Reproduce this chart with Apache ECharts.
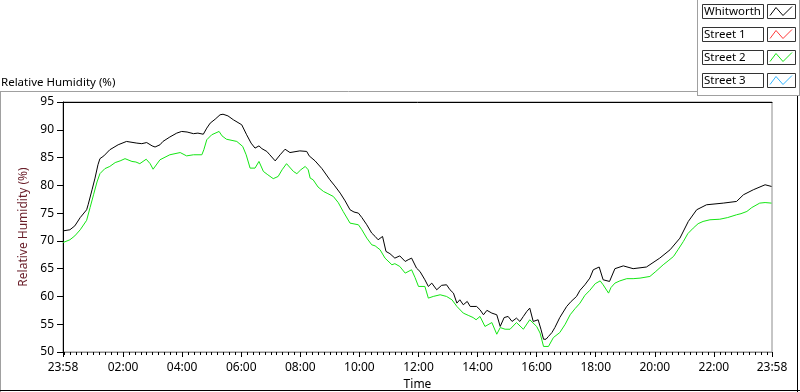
<!DOCTYPE html>
<html>
<head>
<meta charset="utf-8">
<script src="https://cdn.jsdelivr.net/npm/echarts@6/dist/echarts.min.js"></script>
<style>
html,body{margin:0;padding:0;background:#fff;}
#chart{width:800px;height:392px;}
</style>
</head>
<body>
<div id="chart"></div>
<script>
// ---- data (x = minutes elapsed since 23:58) ----
const seriesNames = ['Whitworth', 'Street 1', 'Street 2', 'Street 3'];
const seriesColors = ['#000000', '#ff3a3a', '#14e614', '#35b6ff'];

const whitworthTimes = [0,14,24,35,48,51,59,65,71,75,83,95,112,129,150,160,170,181,187,197,203,217,231,241,252,265,274,285,292,299,309,319,325,335,346,363,373,382,390,398,404,414,420,431,441,451,461,481,495,500,512,526,542,552,563,573,583,591,600,607,617,627,634,640,649,656,664,674,684,695,701,708,718,725,735,742,749,759,769,779,786,793,800,806,813,821,827,840,847,854,861,871,881,888,896,904,912,921,928,935,942,948,955,965,971,976,981,986,993,999,1009,1023,1032,1043,1050,1060,1070,1077,1089,1097,1110,1121,1138,1158,1185,1212,1233,1253,1270,1287,1307,1341,1368,1382,1402,1426,1439];
const whitworthValues = [71.8,72.0,72.7,74.2,75.6,76.5,79.2,81.3,83.7,84.8,85.3,86.4,87.3,87.9,87.6,87.5,87.7,87.1,86.9,87.3,87.9,88.7,89.4,89.7,89.6,89.3,89.4,89.2,90.3,91.2,91.9,92.7,92.8,92.5,91.8,90.9,89.1,87.6,86.7,87.1,86.6,86.1,85.5,84.4,85.5,86.5,85.9,86.2,86.1,85.3,84.4,83.0,81.0,79.9,78.6,77.2,75.6,75.2,75.0,74.2,72.9,71.4,70.8,70.2,70.8,68.1,67.7,66.9,67.3,66.3,66.6,66.9,65.1,64.5,63.0,61.8,62.4,61.2,62.0,62.1,61.2,60.6,58.8,59.4,58.5,59.1,58.2,58.2,57.6,56.7,57.5,57.0,56.7,54.6,56.2,56.4,55.5,56.1,55.5,56.4,57.3,57.9,55.5,55.8,54.0,52.3,52.3,52.8,53.5,54.4,56.2,58.2,59.1,60.0,61.1,62.1,63.3,64.8,65.3,63.0,62.7,65.0,65.5,65.0,65.3,66.9,68.4,70.5,73.5,75.6,76.5,76.8,77.1,78.3,79.2,80.1,79.8];

const street1Times = [];
const street1Values = [];

const street2Times = [0,14,24,35,48,55,62,69,75,85,95,106,116,126,140,148,156,169,177,183,197,217,238,251,265,282,286,292,302,317,323,332,353,365,372,380,390,398,407,416,427,437,445,454,468,475,483,492,498,502,508,518,529,538,549,559,569,583,600,607,617,627,634,644,654,668,674,684,695,708,715,722,735,742,752,766,779,790,800,813,823,833,839,847,857,871,881,888,898,908,921,935,948,962,969,976,986,996,1009,1020,1030,1040,1050,1060,1070,1081,1091,1097,1108,1113,1121,1131,1145,1158,1172,1192,1204,1219,1229,1240,1249,1260,1269,1280,1290,1300,1314,1334,1350,1368,1377,1389,1399,1415,1426,1439];
const street2Values = [69.7,70.2,70.9,72.0,73.7,76.0,78.3,80.6,82.1,83.0,83.4,84.1,84.4,84.8,84.3,84.2,83.9,84.7,83.9,82.9,84.6,85.5,85.9,85.3,85.5,85.5,86.4,88.2,89.1,89.7,88.9,88.3,87.9,87.0,85.5,83.1,83.1,84.3,82.5,81.9,81.2,81.6,82.8,83.9,82.5,82.1,82.8,83.4,82.8,81.3,81.0,79.7,78.9,78.5,78.0,76.9,75.3,73.2,72.9,72.0,70.5,69.3,69.1,68.4,66.9,65.7,65.9,65.4,64.2,64.8,63.4,61.8,61.8,59.7,60.0,60.3,60.0,59.4,58.2,57.0,56.6,56.2,55.8,56.4,54.6,55.3,53.2,54.4,54.1,54.1,55.3,54.1,55.8,54.6,53.4,51.0,51.0,52.6,53.5,55.0,56.7,57.8,58.8,60.2,61.1,62.3,62.8,62.1,60.6,61.6,62.4,62.8,63.2,63.2,63.3,63.6,64.5,65.7,66.4,67.2,68.4,69.9,71.3,72.3,73.1,73.5,73.8,73.9,74.2,74.7,74.9,75.3,76.0,76.8,76.9,76.8];

const street3Times = [];
const street3Values = [];

// axis ticks (minutes since 23:58) and labels
const xTickOffsets = [0,122,242,362,482,602,722,842,962,1082,1202,1322,1440];
const xTickLabels = ['23:58','02:00','04:00','06:00','08:00','10:00','12:00','14:00','16:00','18:00','20:00','22:00','23:58'];
const yTicks = [50,55,60,65,70,75,80,85,90,95];

// ---- build ----
function pairs(t, v){ return t.map((x,i)=>[x, v[i]]); }
const seriesData = [
  pairs(whitworthTimes, whitworthValues),
  pairs(street1Times, street1Values),
  pairs(street2Times, street2Values),
  pairs(street3Times, street3Values)
];
const minorOffsets = [];
for (let m = 2; m < 1440; m += 12) minorOffsets.push(m);

const FONT = 'Noto Sans';
const chart = echarts.init(document.getElementById('chart'), null, {renderer:'canvas'});

// legend + frame decorations
const graphics = [
  {type:'line', shape:{x1:0,y1:91.5,x2:697,y2:91.5}, style:{stroke:'#a0a0a0',lineWidth:1}, silent:true},
  {type:'line', shape:{x1:0.5,y1:91,x2:0.5,y2:392}, style:{stroke:'#a0a0a0',lineWidth:1}, silent:true},
  {type:'line', shape:{x1:0,y1:390.5,x2:800,y2:390.5}, style:{stroke:'#000',lineWidth:1}, silent:true},
  {type:'line', shape:{x1:797.5,y1:96,x2:797.5,y2:392}, style:{stroke:'#000',lineWidth:1}, silent:true},
  {type:'line', shape:{x1:697.5,y1:0,x2:697.5,y2:96}, style:{stroke:'#a0a0a0',lineWidth:1}, silent:true},
  {type:'line', shape:{x1:697,y1:95.5,x2:800,y2:95.5}, style:{stroke:'#a0a0a0',lineWidth:1}, silent:true},
  {type:'line', shape:{x1:799.5,y1:0,x2:799.5,y2:96}, style:{stroke:'#a0a0a0',lineWidth:1}, silent:true}
];
seriesNames.forEach((name, i) => {
  const top = 4.5 + i * 23;
  graphics.push({type:'rect', shape:{x:702.5, y:top, width:61, height:14}, style:{fill:'#fff', stroke:'#333', lineWidth:1}, silent:true});
  graphics.push({type:'text', x:704, y:top + 7, style:{text:name, fill:'#000', font:'11.5px "' + FONT + '"', textVerticalAlign:'middle', textAlign:'left'}, silent:true});
  graphics.push({type:'rect', shape:{x:767.5, y:top, width:28, height:14}, style:{fill:'#fff', stroke:'#333', lineWidth:1}, silent:true});
  graphics.push({type:'polyline', shape:{points:[[770, top+11],[776, top+3],[783, top+11],[792, top+2]]}, style:{stroke:seriesColors[i], lineWidth:1, fill:null}, silent:true});
});

const option = {
  animation: false,
  backgroundColor: '#ffffff',
  textStyle: {fontFamily: FONT},
  title: {
    text: 'Relative Humidity (%)',
    left: 1, top: 75, padding: 0,
    textStyle: {fontFamily: FONT, fontSize: 11.5, fontWeight: 'normal', color: '#000', lineHeight: 15}
  },
  grid: {left: 63, top: 102, right: 28, bottom: 40, containLabel: false, outerBoundsMode: 'none',
    show: true, borderColor: '#8c8c8c', borderWidth: 1, backgroundColor: '#fff'},
  xAxis: [
    {
      type: 'value', min: 0, max: 1440, position: 'bottom',
      name: 'Time', nameLocation: 'middle', nameGap: 26,
      nameTextStyle: {fontFamily: FONT, fontSize: 12, color: '#000'},
      axisLine: {show: true, lineStyle: {color: '#8c8c8c', width: 1}},
      axisTick: {show: true, inside: false, length: 5, lineStyle: {color: '#000'}, customValues: xTickOffsets},
      axisLabel: {show: true, margin: 10, fontFamily: FONT, fontSize: 12, color: '#000', customValues: xTickOffsets,
        formatter: function(v){ const i = xTickOffsets.indexOf(v); return i >= 0 ? xTickLabels[i] : ''; }, showMinLabel: true, showMaxLabel: true},
      splitLine: {show: false}
    },
    {
      type: 'value', min: 0, max: 1440, position: 'bottom',
      axisLine: {show: false},
      axisTick: {show: true, inside: false, length: 3, lineStyle: {color: '#000'}, customValues: minorOffsets},
      axisLabel: {show: false},
      splitLine: {show: false}
    },
    {
      type: 'value', min: 0, max: 1440, position: 'top',
      axisLine: {show: true, lineStyle: {color: '#000', width: 1}},
      axisTick: {show: false}, axisLabel: {show: false}, splitLine: {show: false}
    }
  ],
  yAxis: [{
    type: 'value', min: 50, max: 95, interval: 5,
    name: 'Relative Humidity (%)', nameLocation: 'middle', nameGap: 33, nameRotate: 90,
    nameTextStyle: {fontFamily: FONT, fontSize: 12, color: '#6a1f2a'},
    axisLine: {show: true, lineStyle: {color: '#000', width: 1}},
    axisTick: {show: true, inside: false, length: 6, lineStyle: {color: '#000'}},
    axisLabel: {show: true, margin: 9, fontFamily: FONT, fontSize: 12, color: '#000'},
    splitLine: {show: false}
  }],
  series: seriesNames.map((name, i) => ({
    name: name, type: 'line', xAxisIndex: 0, yAxisIndex: 0,
    data: seriesData[i], showSymbol: false, symbol: 'none',
    lineStyle: {color: seriesColors[i], width: 1}, itemStyle: {color: seriesColors[i]},
    emphasis: {disabled: true}
  })),
  graphic: graphics
};
chart.setOption(option);
</script>
</body>
</html>
